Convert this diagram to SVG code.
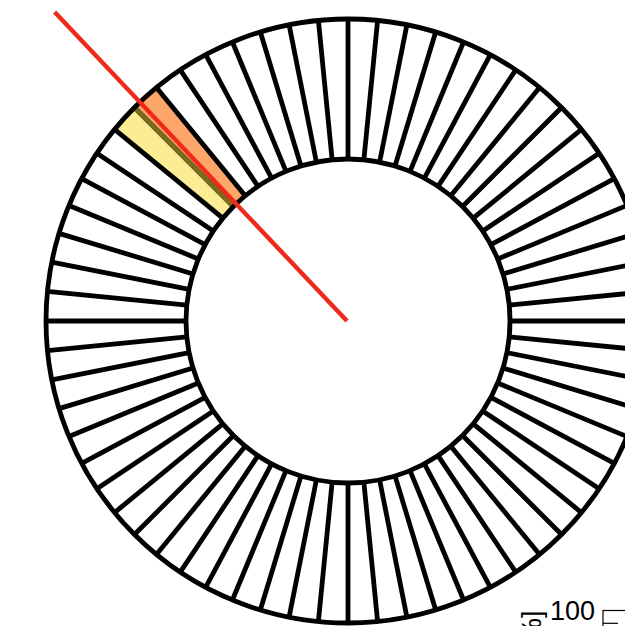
<svg xmlns="http://www.w3.org/2000/svg" xmlns:xlink="http://www.w3.org/1999/xlink" width="625" height="626" viewBox="0 0 625 626">
  <style>
    .ring { fill: none; stroke: #000; stroke-width: 4.8; }
    .spoke { stroke: #000; stroke-width: 4.8; }
    .lbl { font-family: "Liberation Sans", Arial, sans-serif; font-size: 27px; fill: #000; }
  </style>
  <defs>
    <line id="s" class="spoke" x1="348" y1="159" x2="348" y2="19"/>
  </defs>
  <rect width="625" height="626" fill="#fff"/>
  <g id="highlight">
    <path d="M156.41,87.55 A302,302 0 0 0 134.45,107.45 L233.45,206.45 A162,162 0 0 1 245.23,195.77 Z" fill="#fda66a"/>
    <path d="M134.45,107.45 A302,302 0 0 0 114.55,129.41 L222.77,218.23 A162,162 0 0 1 233.45,206.45 Z" fill="#fcec94"/>
  </g>
  <g id="spokes">
    <use xlink:href="#s" transform="rotate(0 348 321)"/>
    <use xlink:href="#s" transform="rotate(5.625 348 321)"/>
    <use xlink:href="#s" transform="rotate(11.25 348 321)"/>
    <use xlink:href="#s" transform="rotate(16.875 348 321)"/>
    <use xlink:href="#s" transform="rotate(22.5 348 321)"/>
    <use xlink:href="#s" transform="rotate(28.125 348 321)"/>
    <use xlink:href="#s" transform="rotate(33.75 348 321)"/>
    <use xlink:href="#s" transform="rotate(39.375 348 321)"/>
    <use xlink:href="#s" transform="rotate(45 348 321)"/>
    <use xlink:href="#s" transform="rotate(50.625 348 321)"/>
    <use xlink:href="#s" transform="rotate(56.25 348 321)"/>
    <use xlink:href="#s" transform="rotate(61.875 348 321)"/>
    <use xlink:href="#s" transform="rotate(67.5 348 321)"/>
    <use xlink:href="#s" transform="rotate(73.125 348 321)"/>
    <use xlink:href="#s" transform="rotate(78.75 348 321)"/>
    <use xlink:href="#s" transform="rotate(84.375 348 321)"/>
    <use xlink:href="#s" transform="rotate(90 348 321)"/>
    <use xlink:href="#s" transform="rotate(95.625 348 321)"/>
    <use xlink:href="#s" transform="rotate(101.25 348 321)"/>
    <use xlink:href="#s" transform="rotate(106.875 348 321)"/>
    <use xlink:href="#s" transform="rotate(112.5 348 321)"/>
    <use xlink:href="#s" transform="rotate(118.125 348 321)"/>
    <use xlink:href="#s" transform="rotate(123.75 348 321)"/>
    <use xlink:href="#s" transform="rotate(129.375 348 321)"/>
    <use xlink:href="#s" transform="rotate(135 348 321)"/>
    <use xlink:href="#s" transform="rotate(140.625 348 321)"/>
    <use xlink:href="#s" transform="rotate(146.25 348 321)"/>
    <use xlink:href="#s" transform="rotate(151.875 348 321)"/>
    <use xlink:href="#s" transform="rotate(157.5 348 321)"/>
    <use xlink:href="#s" transform="rotate(163.125 348 321)"/>
    <use xlink:href="#s" transform="rotate(168.75 348 321)"/>
    <use xlink:href="#s" transform="rotate(174.375 348 321)"/>
    <use xlink:href="#s" transform="rotate(180 348 321)"/>
    <use xlink:href="#s" transform="rotate(185.625 348 321)"/>
    <use xlink:href="#s" transform="rotate(191.25 348 321)"/>
    <use xlink:href="#s" transform="rotate(196.875 348 321)"/>
    <use xlink:href="#s" transform="rotate(202.5 348 321)"/>
    <use xlink:href="#s" transform="rotate(208.125 348 321)"/>
    <use xlink:href="#s" transform="rotate(213.75 348 321)"/>
    <use xlink:href="#s" transform="rotate(219.375 348 321)"/>
    <use xlink:href="#s" transform="rotate(225 348 321)"/>
    <use xlink:href="#s" transform="rotate(230.625 348 321)"/>
    <use xlink:href="#s" transform="rotate(236.25 348 321)"/>
    <use xlink:href="#s" transform="rotate(241.875 348 321)"/>
    <use xlink:href="#s" transform="rotate(247.5 348 321)"/>
    <use xlink:href="#s" transform="rotate(253.125 348 321)"/>
    <use xlink:href="#s" transform="rotate(258.75 348 321)"/>
    <use xlink:href="#s" transform="rotate(264.375 348 321)"/>
    <use xlink:href="#s" transform="rotate(270 348 321)"/>
    <use xlink:href="#s" transform="rotate(275.625 348 321)"/>
    <use xlink:href="#s" transform="rotate(281.25 348 321)"/>
    <use xlink:href="#s" transform="rotate(286.875 348 321)"/>
    <use xlink:href="#s" transform="rotate(292.5 348 321)"/>
    <use xlink:href="#s" transform="rotate(298.125 348 321)"/>
    <use xlink:href="#s" transform="rotate(303.75 348 321)"/>
    <use xlink:href="#s" transform="rotate(309.375 348 321)"/>
    <use xlink:href="#s" transform="rotate(315 348 321)"/>
    <use xlink:href="#s" transform="rotate(320.625 348 321)"/>
    <use xlink:href="#s" transform="rotate(326.25 348 321)"/>
    <use xlink:href="#s" transform="rotate(331.875 348 321)"/>
    <use xlink:href="#s" transform="rotate(337.5 348 321)"/>
    <use xlink:href="#s" transform="rotate(343.125 348 321)"/>
    <use xlink:href="#s" transform="rotate(348.75 348 321)"/>
    <use xlink:href="#s" transform="rotate(354.375 348 321)"/>
    <line x1="233.45" y1="206.45" x2="134.45" y2="107.45" stroke="#7b6c1c" stroke-width="4.8"/>
  </g>
  <g id="rings">
    <circle class="ring" cx="348" cy="321" r="302"/>
    <circle class="ring" cx="348" cy="321" r="162"/>
  </g>
  <g id="direction">
    <line x1="54.6" y1="12" x2="347" y2="321" stroke="#ee2a1a" stroke-width="4.4"/>
  </g>
  <g id="colorbar">
    <rect x="603" y="610.5" width="40" height="40" fill="none" stroke="#000" stroke-width="1.2"/>
    <line x1="603" y1="623.3" x2="618" y2="623.3" stroke="#000" stroke-width="1.2"/>
    <text class="lbl" x="550" y="619.5">100</text>
    <text class="lbl" text-anchor="end" transform="translate(541,610.5) rotate(-90)">[%]</text>
  </g>
</svg>
